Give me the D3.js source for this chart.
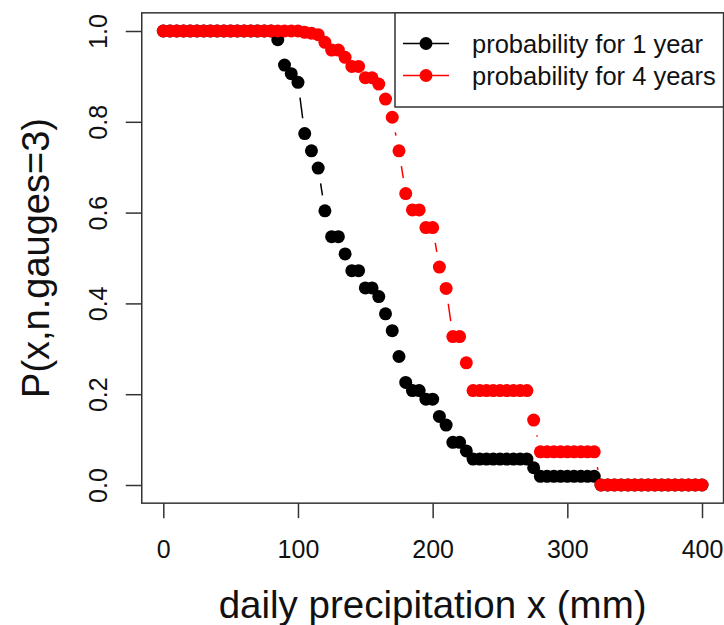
<!DOCTYPE html>
<html>
<head>
<meta charset="utf-8">
<script src="https://cdn.jsdelivr.net/npm/d3@7/dist/d3.min.js"></script>
<style>
  html, body { margin: 0; padding: 0; background: #fff; }
  svg { display: block; }
  text { font-family: "Liberation Sans", Arial, Helvetica, sans-serif; fill: #111; }
</style>
</head>
<body>
<svg id="chart" width="724" height="625"></svg>
<script>
// ---- data ----
const precipitation = [0,5,10,15,20,25,30,35,40,45,50,55,60,65,70,75,80,85,90,95,100,
  105,110,115,120,125,130,135,140,145,150,155,160,165,170,175,180,185,190,195,200,
  205,210,215,220,225,230,235,240,245,250,255,260,265,270,275,280,285,290,295,300,
  305,310,315,320,325,330,335,340,345,350,355,360,365,370,375,380,385,390,395,400];

const prob1year = [1,1,1,1,1,1,1,1,1,1,1,1,1,1,1,1,1,
  0.981,0.925,0.906,0.887,0.774,0.736,0.698,0.604,0.547,0.547,0.509,0.472,0.472,
  0.434,0.434,0.415,0.377,0.340,0.283,0.226,0.208,0.208,0.189,0.189,0.151,0.132,
  0.094,0.094,0.075,
  0.057,0.057,0.057,0.057,0.057,0.057,0.057,0.057,0.057,
  0.038,
  0.019,0.019,0.019,0.019,0.019,0.019,0.019,0.019,0.019,
  0,0,0,0,0,0,0,0,0,0,0,0,0,0,0,0];

const prob4years = [1,1,1,1,1,1,1,1,1,1,1,1,1,1,1,1,1,1,1,1,1,
  0.997,0.995,0.992,0.975,0.958,0.958,0.942,0.922,0.922,0.897,0.897,0.883,0.850,
  0.810,0.736,0.642,0.606,0.606,0.567,0.567,0.480,0.433,0.327,0.327,0.269,
  0.208,0.208,0.208,0.208,0.208,0.208,0.208,0.208,0.208,
  0.143,
  0.073,0.073,0.073,0.073,0.073,0.073,0.073,0.073,0.073,
  0,0,0,0,0,0,0,0,0,0,0,0,0,0,0,0];

const seriesNames = ["probability for 1 year", "probability for 4 years"];
const seriesColors = ["#000000", "#ff0000"];
const xTicks = [0, 100, 200, 300, 400];
const yTicks = [0, 0.2, 0.4, 0.6, 0.8, 1.0];
const xTitle = "daily precipitation x (mm)";
const yTitle = "P(x,n.gauges=3)";

// ---- layout ----
const svg = d3.select("#chart");
const W = 724, H = 625;
svg.append("rect").attr("width", W).attr("height", H).attr("fill", "#fff");

const x = d3.scaleLinear().domain([0, 400]).range([163.3, 702]);
const y = d3.scaleLinear().domain([0, 1]).range([485, 31]);
const xDom = [-16, 416], yDom = [-0.04, 1.04];
const pLeft = x(xDom[0]), pRight = x(xDom[1]), pTop = y(yDom[1]), pBottom = y(yDom[0]);

const R = 6.5, GAP = 15.5;
const series = [prob1year, prob4years];

// ---- series (type = "b") ----
series.forEach((vals, si) => {
  const g = svg.append("g");
  const pts = precipitation.map((p, i) => [x(p), y(vals[i])]);
  const segs = [];
  for (let i = 0; i < pts.length - 1; i++) {
    const [x0, y0] = pts[i], [x1, y1] = pts[i + 1];
    const d = Math.hypot(x1 - x0, y1 - y0);
    if (d > 2 * GAP) {
      const ux = (x1 - x0) / d, uy = (y1 - y0) / d;
      segs.push([x0 + ux * GAP, y0 + uy * GAP, x1 - ux * GAP, y1 - uy * GAP]);
    }
  }
  g.selectAll("line").data(segs).join("line")
    .attr("x1", d => d[0]).attr("y1", d => d[1])
    .attr("x2", d => d[2]).attr("y2", d => d[3])
    .attr("stroke", seriesColors[si]).attr("stroke-width", 1.5);
  g.selectAll("circle").data(precipitation).join("circle")
    .attr("cx", d => x(d)).attr("cy", (d, i) => y(vals[i]))
    .attr("r", R).attr("fill", seriesColors[si]);
});

// ---- box ----
svg.append("rect")
  .attr("x", pLeft).attr("y", pTop)
  .attr("width", pRight - pLeft).attr("height", pBottom - pTop)
  .attr("fill", "none").attr("stroke", "#333").attr("stroke-width", 1.5);

// ---- axes ----
const xAxis = d3.axisBottom(x).tickValues(xTicks).tickSize(15).tickPadding(22)
  .tickFormat(d3.format("d"));
const gx = svg.append("g").attr("transform", `translate(0,${pBottom})`).call(xAxis);
gx.select(".domain").remove();
gx.selectAll(".tick line").attr("stroke", "#333").attr("stroke-width", 1.5);
gx.selectAll(".tick text").attr("font-size", 25)
  .attr("font-family", "Liberation Sans, Arial, sans-serif").attr("fill", "#111")
  .attr("dy", "0.71em");

const yAxis = d3.axisLeft(y).tickValues(yTicks).tickSize(16).tickPadding(0)
  .tickFormat(d3.format(".1f"));
const gy = svg.append("g").attr("transform", `translate(${pLeft},0)`).call(yAxis);
gy.select(".domain").remove();
gy.selectAll(".tick line").attr("stroke", "#333").attr("stroke-width", 1.5);
gy.selectAll(".tick text").attr("font-size", 25)
  .attr("font-family", "Liberation Sans, Arial, sans-serif").attr("fill", "#111")
  .attr("x", null).attr("dy", null)
  .attr("text-anchor", "middle")
  .attr("transform", `translate(${107 - pLeft},0) rotate(-90)`);

// ---- axis titles ----
svg.append("text").attr("x", (pLeft + pRight) / 2).attr("y", 618)
  .attr("text-anchor", "middle").attr("font-size", 38.5).text(xTitle);
svg.append("text")
  .attr("transform", `translate(49,${(pTop + pBottom) / 2}) rotate(-90)`)
  .attr("text-anchor", "middle").attr("font-size", 38).text(yTitle);

// ---- legend ----
const lg = svg.append("g");
lg.append("rect").attr("x", 395).attr("y", pTop)
  .attr("width", pRight - 395).attr("height", 107 - pTop)
  .attr("fill", "#fff").attr("stroke", "#333").attr("stroke-width", 1.5);
const legendY = [43.5, 75.5];
seriesNames.forEach((name, i) => {
  lg.append("line").attr("x1", 403).attr("x2", 449)
    .attr("y1", legendY[i]).attr("y2", legendY[i])
    .attr("stroke", seriesColors[i]).attr("stroke-width", 1.5);
  lg.append("circle").attr("cx", 426).attr("cy", legendY[i]).attr("r", R)
    .attr("fill", seriesColors[i]);
  lg.append("text").attr("x", 472).attr("y", legendY[i] + 9)
    .attr("font-size", 25.5).text(name);
});
</script>
</body>
</html>
